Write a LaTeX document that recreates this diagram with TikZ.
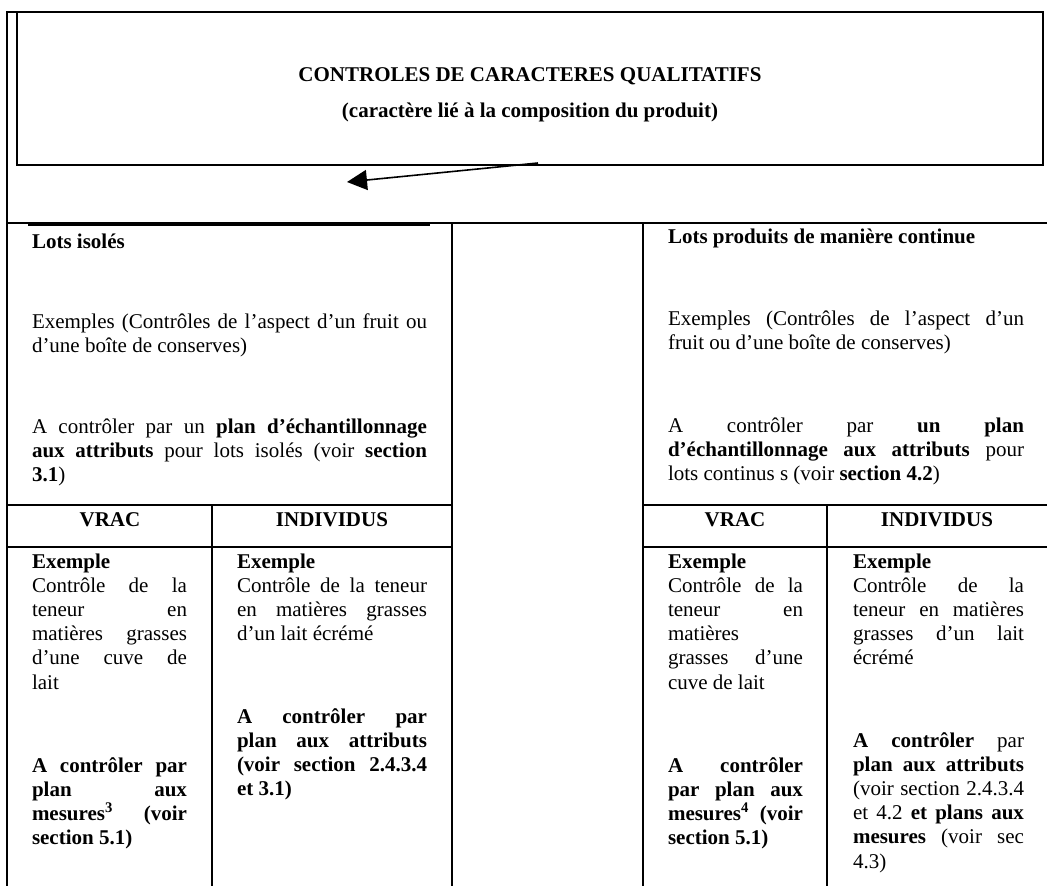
\documentclass[tikz,border=0pt]{standalone}
\usepackage{fontspec}
\setmainfont{Liberation Serif}
\usetikzlibrary{arrows.meta}
\newcommand\tb[2]{\parbox[t]{#1pt}{\fontsize{21}{24.2}\selectfont\hyphenpenalty=10000 \exhyphenpenalty=10000 #2}}
\begin{document}
\begin{tikzpicture}[x=1pt,y=-1pt,
  rule/.style={line width=2.1pt, line cap=rect},
  txt/.style={anchor=base west, inner sep=0pt, outer sep=0pt},
  hdr/.style={anchor=base, inner sep=0pt, font=\fontsize{21}{24.2}\selectfont\bfseries},
  arr/.style={line width=1.6pt, -{Triangle[length=20pt,width=20pt]}}]
\useasboundingbox (0,0) rectangle (1047,886);

% frame and title box
\draw[rule] (7,12) -- (1043,12) -- (1043,165) -- (17,165) -- (17,12);
\draw[rule] (7,12) -- (7,886);
\draw[rule] (7,223) -- (1047,223);
\draw[line width=1.4pt] (28,225) -- (430,225);
\draw[rule] (452,223) -- (452,886);
\draw[rule] (643,223) -- (643,886);
\draw[rule] (7,505) -- (452,505);
\draw[rule] (7,547) -- (452,547);
\draw[rule] (643,505) -- (1047,505);
\draw[rule] (643,547) -- (1047,547);
\draw[rule] (212,505) -- (212,886);
\draw[rule] (827,505) -- (827,886);

% title
\node[hdr] (title) at (530,81) {CONTROLES DE CARACTERES QUALITATIFS};
\node[hdr] (subtitle) at (530,117) {(caractère lié à la composition du produit)};

% arrow
\coordinate (atail) at (538,163);
\coordinate (ahead) at (347,182);
\draw[arr] (atail) -- (ahead);

% left upper block
\node[txt] (lotsiso) at (32,248) {\tb{395}{\textbf{Lots isolés}}};
\node[txt] (exiso) at (32,328) {\tb{395}{Exemples (Contrôles de l’aspect d’un fruit ou\linebreak d’une boîte de conserves)}};
\node[txt] (ctrliso) at (32,433) {\tb{395}{A contrôler par un \textbf{plan d’échantillonnage}\linebreak \textbf{aux attributs} pour lots isolés (voir \textbf{section}\linebreak \textbf{3.1})}};

% right upper block
\node[txt] (lotscont) at (668,243) {\tb{356}{\textbf{Lots produits de manière continue}}};
\node[txt] (excont) at (668,325) {\tb{356}{Exemples (Contrôles de l’aspect d’un\linebreak fruit ou d’une boîte de conserves)}};
\node[txt] (ctrlcont) at (668,432) {\tb{356}{A contrôler par \textbf{un plan}\linebreak \textbf{d’échantillonnage aux attributs} pour\linebreak lots continus s (voir \textbf{section 4.2})}};

% headers
\node[hdr] (vracL) at (110,526) {VRAC};
\node[hdr] (indL) at (332,526) {INDIVIDUS};
\node[hdr] (vracR) at (735,526) {VRAC};
\node[hdr] (indR) at (937,526) {INDIVIDUS};

% left table
\node[txt] (exVL) at (32,568) {\tb{155}{\textbf{Exemple}\par Contrôle de la\linebreak teneur en\linebreak matières grasses\linebreak d’une cuve de\linebreak lait}};
\node[txt] (ctVL) at (32,772) {\tb{155}{\textbf{A contrôler par\linebreak plan aux\linebreak mesures\textsuperscript{3} (voir\linebreak section 5.1)}}};
\node[txt] (exIL) at (237,568) {\tb{190}{\textbf{Exemple}\par Contrôle de la teneur\linebreak en matières grasses\linebreak d’un lait écrémé}};
\node[txt] (ctIL) at (237,723) {\tb{190}{\textbf{A contrôler par\linebreak plan aux attributs\linebreak (voir section 2.4.3.4\linebreak et 3.1)}}};

% right table
\node[txt] (exVR) at (668,568) {\tb{135}{\textbf{Exemple}\par Contrôle de la\linebreak teneur en\linebreak matières\newline grasses d’une\linebreak cuve de lait}};
\node[txt] (ctVR) at (668,772) {\tb{135}{\textbf{A contrôler\linebreak par plan aux\linebreak mesures\textsuperscript{4} (voir\linebreak section 5.1)}}};
\node[txt] (exIR) at (853,568) {\tb{171}{\textbf{Exemple}\par Contrôle de la\linebreak teneur en matières\linebreak grasses d’un lait\linebreak écrémé}};
\node[txt] (ctIR) at (853,747) {\tb{171}{\textbf{A contrôler} par\linebreak \textbf{plan aux attributs}\linebreak (voir section 2.4.3.4\linebreak et 4.2 \textbf{et plans aux}\linebreak \textbf{mesures} (voir sec\linebreak 4.3)}};
\end{tikzpicture}
\end{document}
